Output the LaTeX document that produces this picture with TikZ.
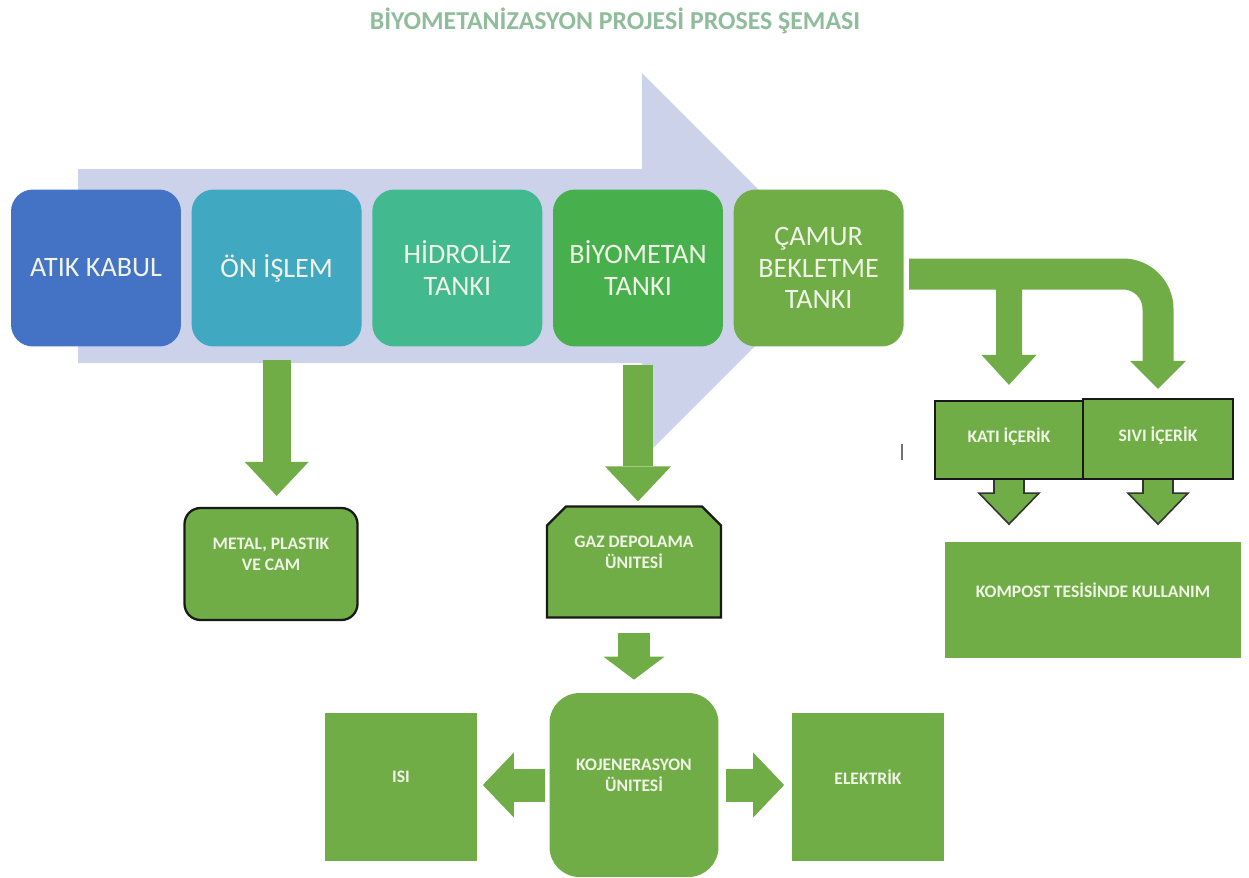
\documentclass[tikz,border=0pt]{standalone}
\usepackage{fontspec}
\setmainfont{Carlito}
\usetikzlibrary{positioning,calc,arrows.meta,shapes.misc}

\definecolor{atikblue}{HTML}{4472C4}
\definecolor{onteal}{HTML}{41A8C2}
\definecolor{hidgreen}{HTML}{42B98E}
\definecolor{biygreen}{HTML}{47B04C}
\definecolor{leafgreen}{HTML}{70AD47}
\definecolor{flowlav}{HTML}{CDD2EB}
\definecolor{titlegreen}{HTML}{8FBC9B}
\definecolor{boxtext}{HTML}{F0F4E6}

\begin{document}
\begin{tikzpicture}[x=0.02cm, y=-0.02cm,
  node distance = 2mm,
  stage/.style = {rounded corners=4.4mm, minimum width=3.4cm,
    minimum height=3.14cm, text=boxtext, align=center,
    font=\fontsize{16}{18}\selectfont},
  unit/.style = {fill=leafgreen, text=boxtext, align=center,
    font=\fontsize{10}{12}\selectfont\bfseries, text depth=4mm},
  framed/.style = {draw=black!90, line width=1.3pt},
  arr/.style = {draw=leafgreen, line width=5.6mm,
    -{Triangle[width=12.8mm, length=6.8mm, line width=0pt]}},
  outarr/.style = {fill=leafgreen, draw=black!80, line width=0.9pt,
    line join=miter}
  ]
  \useasboundingbox (0,0) rectangle (1249,877);

  \node (title) at (615,21) [font=\fontsize{14.7}{17}\selectfont\bfseries,
    text=titlegreen] {BİYOMETANİZASYON PROJESİ PROSES ŞEMASI};

  % broad flow arrow behind the process stages
  \fill [flowlav] (78,169) -- (642,169) -- (642,73) -- (835,266)
    -- (642,459) -- (642,363) -- (78,363) -- cycle;

  \node (atik) at (96,268) [stage, fill=atikblue] {ATIK KABUL};
  \node (onislem) [stage, fill=onteal, right=of atik] {ÖN İŞLEM};
  \node (hidroliz) [stage, fill=hidgreen, right=of onislem] {HİDROLİZ\\TANKI};
  \node (biyometan) [stage, fill=biygreen, right=of hidroliz] {BİYOMETAN\\TANKI};
  \node (camur) [stage, fill=leafgreen, right=of biyometan]
    {ÇAMUR\\BEKLETME\\TANKI};

  % outputs
  \node (metal) at (271,564) [unit, framed, rounded corners=3.2mm,
    minimum width=3.46cm, minimum height=2.24cm] {METAL, PLASTIK\\VE CAM};
  \node (gaz) at (634,562) [unit, framed, chamfered rectangle,
    chamfered rectangle corners={north west,north east},
    chamfered rectangle xsep=1.9mm, chamfered rectangle ysep=1.9mm,
    minimum width=3.48cm, minimum height=2.22cm] {GAZ DEPOLAMA\\ÜNITESİ};
  \node (kojen) at (634,785) [unit, rounded corners=6mm,
    minimum width=3.38cm, minimum height=3.68cm] {KOJENERASYON\\ÜNITESİ};
  \node (isi) at (401,787) [unit, minimum width=3.06cm,
    minimum height=2.96cm] {ISI};
  \node (elektrik) at (868,787) [unit, minimum width=3.06cm,
    minimum height=2.96cm] {ELEKTRİK};
  \node (kati) at (1009,440) [unit, framed, text depth=2mm,
    minimum width=2.96cm, minimum height=1.56cm] {KATI İÇERİK};
  \node (sivi) at (1158,439) [unit, framed, text depth=2mm,
    minimum width=3cm, minimum height=1.6cm] {SIVI İÇERİK};
  \node (kompost) at (1093,600) [unit, minimum width=5.94cm,
    minimum height=2.32cm] {KOMPOST TESİSİNDE KULLANIM};

  \draw [arr] ($(onislem.south)+(0,13)$)
    -- ($(onislem.south |- metal.north)+(0,-11)$);
  \draw [arr, line width=6mm,
    -{Triangle[width=13.2mm, length=7mm, line width=0pt]}]
    ($(biyometan.south)+(0,18)$) -- ($(biyometan.south |- gaz.north)+(0,-4)$);
  \draw [arr, line width=6.4mm,
    -{Triangle[width=12.2mm, length=4.6mm, line width=0pt]}]
    ($(gaz.south)+(0,14)$) -- ($(kojen.north)+(0,-13)$);
  \draw [arr, line width=6.6mm,
    -{Triangle[width=13mm, length=6.2mm, line width=0pt]}]
    ($(kojen.west)+(-4,0)$) -- ($(kojen.west -| isi.east)+(5,0)$);
  \draw [arr, line width=6.6mm,
    -{Triangle[width=13mm, length=6.2mm, line width=0pt]}]
    ($(kojen.east)+(7,0)$) -- ($(kojen.east -| elektrik.west)+(-7,0)$);

  % sludge split into solid and liquid parts
  \draw [arr, line width=5.2mm, rounded corners=3.6mm,
    -{Triangle[width=11mm, length=6mm, line width=0pt]}]
    ($(camur.east)+(5,4)$) -| ($(kati.north)+(0,-15)$);
  \draw [arr, line width=6.2mm, rounded corners=7mm,
    -{Triangle[width=11.2mm, length=5.6mm, line width=0pt]}]
    ($(camur.east)+(5,6)$) -| ($(sivi.north)+(0,-9)$);

  \draw [outarr] ($(kati.south)+(-15,0)$) -- ++(0,13) -- ++(-15,0)
    -- ++(30,31) -- ++(30,-31) -- ++(-15,0) -- ++(0,-13);
  \draw [outarr] ($(sivi.south)+(-15,0)$) -- ++(0,13) -- ++(-15,0)
    -- ++(30,31) -- ++(30,-31) -- ++(-15,0) -- ++(0,-13);

  \draw [black!55, line width=1pt] (902,444) -- (902,460);
\end{tikzpicture}
\end{document}
